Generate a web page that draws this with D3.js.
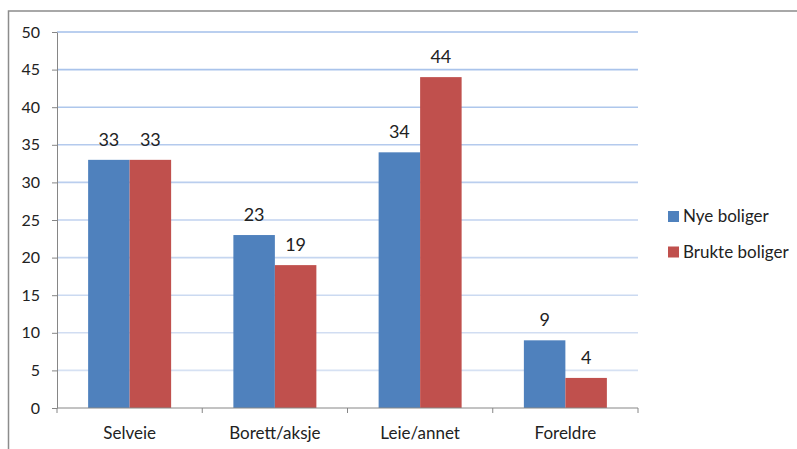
<!DOCTYPE html>
<html>
<head>
<meta charset="utf-8">
<script src="https://cdn.jsdelivr.net/npm/d3@7"></script>
<style>
  body { margin: 0; background: #fff; }
  svg { display: block; font-family: Lato, "Open Sans", sans-serif; }
  .tick text { fill: #222; }
</style>
</head>
<body>
<div id="chart"></div>
<script>
// --- data ---
const categories = ["Selveie", "Borett/aksje", "Leie/annet", "Foreldre"];
const seriesNames = ["Nye boliger", "Brukte boliger"];
const nyeBoliger = [33, 23, 34, 9];
const brukteBoliger = [33, 19, 44, 4];
const yTicks = [0, 5, 10, 15, 20, 25, 30, 35, 40, 45, 50];
const colors = ["#4f81bd", "#c0504d"];

const W = 797, H = 449;
const plot = { left: 57, right: 638, top: 32, bottom: 408 };

const svg = d3.select("#chart").append("svg").attr("width", W).attr("height", H);

// outer chart frame (right/bottom edges fall outside the picture)
svg.append("rect")
  .attr("x", 8.5).attr("y", 11).attr("width", 800).attr("height", 460)
  .attr("fill", "none").attr("stroke", "#8c8c8c").attr("stroke-width", 1.5);

const x0 = d3.scaleBand().domain(categories).range([plot.left, plot.right]);
// Excel-style gap width of 150%: group = 3.5 bar widths
const bw = x0.bandwidth() / 3.5;
const x1 = d3.scaleBand().domain(seriesNames)
  .range([0.75 * bw, 2.75 * bw]);
const y = d3.scaleLinear().domain([0, 50]).range([plot.bottom, plot.top]);

// gridlines (slightly stronger towards the top, as in the reference)
const gridColor = d3.interpolateRgb("#dce5f4", "#a3bfea");
svg.append("g").selectAll("line")
  .data(yTicks.filter(d => d > 0))
  .join("line")
  .attr("x1", plot.left).attr("x2", plot.right)
  .attr("y1", d => y(d)).attr("y2", d => y(d))
  .attr("stroke", d => gridColor(d / 50))
  .attr("stroke-width", 1.6);

// bars
const rows = categories.map((c, i) => ({ cat: c, vals: [nyeBoliger[i], brukteBoliger[i]] }));
const groups = svg.append("g").selectAll("g")
  .data(rows).join("g")
  .attr("transform", d => `translate(${x0(d.cat)},0)`);

groups.selectAll("rect")
  .data(d => d.vals.map((v, j) => ({ s: seriesNames[j], v, j })))
  .join("rect")
  .attr("x", d => x1(d.s))
  .attr("width", x1.bandwidth())
  .attr("y", d => y(d.v))
  .attr("height", d => y(0) - y(d.v))
  .attr("fill", d => colors[d.j]);

groups.selectAll("text")
  .data(d => d.vals.map((v, j) => ({ s: seriesNames[j], v, j })))
  .join("text")
  .attr("x", d => x1(d.s) + x1.bandwidth() / 2)
  .attr("y", d => y(d.v) - 14)
  .attr("text-anchor", "middle")
  .attr("font-size", 18)
  .attr("fill", "#222")
  .text(d => d.v);

// y axis
const yAxis = svg.append("g")
  .attr("transform", `translate(${plot.left},0)`)
  .call(d3.axisLeft(y).tickValues(yTicks).tickSize(5).tickPadding(12).tickSizeOuter(0));
yAxis.selectAll("text").attr("font-size", 16).attr("font-family", "Lato, sans-serif");
yAxis.selectAll("line, path").attr("stroke", "#868686");

// x axis with ticks at category boundaries
const xAxis = svg.append("g").attr("transform", `translate(0,${plot.bottom})`);
xAxis.append("line")
  .attr("x1", plot.left).attr("x2", plot.right)
  .attr("stroke", "#868686");
xAxis.selectAll("line.b")
  .data(categories.map(c => x0(c)).concat([plot.right]))
  .join("line").attr("class", "b")
  .attr("x1", d => d).attr("x2", d => d)
  .attr("y1", 0).attr("y2", 5)
  .attr("stroke", "#868686");
xAxis.selectAll("text")
  .data(categories)
  .join("text")
  .attr("x", d => x0(d) + x0.bandwidth() / 2)
  .attr("y", 31)
  .attr("text-anchor", "middle")
  .attr("font-size", 17)
  .attr("fill", "#222")
  .text(d => d);

// legend
const legend = svg.append("g").attr("transform", "translate(668,211)");
const li = legend.selectAll("g").data(seriesNames).join("g")
  .attr("transform", (d, i) => `translate(0,${i * 35.5})`);
li.append("rect").attr("width", 11).attr("height", 11).attr("fill", (d, i) => colors[i]);
li.append("text").attr("x", 15).attr("y", 11)
  .attr("font-size", 17).attr("fill", "#222").text(d => d);
</script>
</body>
</html>
